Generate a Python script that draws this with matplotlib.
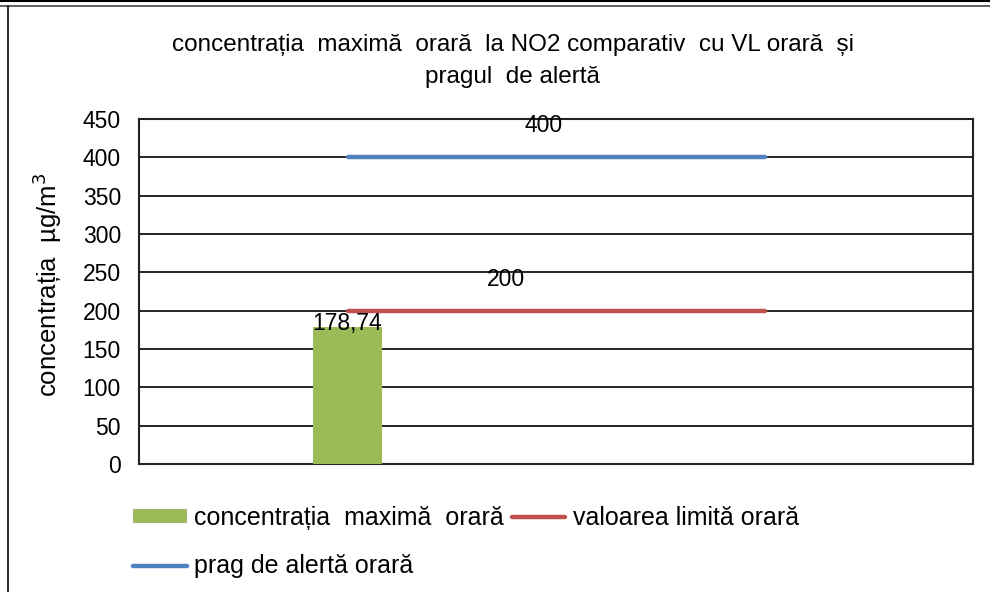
import matplotlib.pyplot as plt
from matplotlib.lines import Line2D

plt.rcParams['font.family'] = ['Liberation Sans', 'DejaVu Sans']

# date
categorii = [0.5, 1.5]
conc_max = [178.74]
vl_orara = [200, 200]
prag_alerta = [400, 400]
eticheta_conc = "178,74"

fig = plt.figure(figsize=(9.9, 5.92), dpi=100)
ax = fig.add_axes([139/990, 1 - 464/592, 834/990, 345/592])

bara = ax.bar(categorii[:1], conc_max, width=0.165, color="#9BBB59", zorder=3)
linie_vl, = ax.plot(categorii, vl_orara, color="#C0504D", lw=3.2, solid_capstyle="round", zorder=4)
linie_prag, = ax.plot(categorii, prag_alerta, color="#4F81BD", lw=3.2, solid_capstyle="round", zorder=4)

ax.text(categorii[0], conc_max[0] - 10, eticheta_conc, ha="center", va="bottom", fontsize=16.5, zorder=5)
ax.text(0.88, vl_orara[0] + 40, str(vl_orara[0]), ha="center", va="center", fontsize=16.5)
ax.text(0.97, prag_alerta[0] + 42, str(prag_alerta[0]), ha="center", va="center", fontsize=16.5)

ax.set_xlim(0, 2)
ax.set_ylim(0, 450)
ax.set_yticks(range(0, 451, 50))
ax.set_xticks([])
ax.tick_params(axis="y", labelsize=16.5, length=0, pad=13)
ax.yaxis.grid(True, color="black", lw=1.2, zorder=0)
ax.set_axisbelow(True)
for s in ax.spines.values():
    s.set_linewidth(1.5)
    s.set_color("#222222")

ax.set_ylabel("concentrația  µg/m$^3$", fontsize=18.5)
ax.yaxis.set_label_coords(-0.09, 0.52)

fig.text(0.518, 1 - 45/592, "concentrația  maximă  orară  la NO2 comparativ  cu VL orară  și",
         ha="center", va="center", fontsize=17.5)
fig.text(0.518, 1 - 77/592, "pragul  de alertă", ha="center", va="center", fontsize=17.5)

# ordine: bara, prag, vl -> pe doua coloane
handles = [bara, linie_prag, linie_vl]
labels = ["concentrația  maximă  orară", "prag de alertă orară", "valoarea limită orară"]
leg = fig.legend(handles, labels, ncol=2,
                 loc="upper left", bbox_to_anchor=(133/990, 1 - 506/592),
                 frameon=False, fontsize=18, handlelength=2.15, handleheight=0.5,
                 handletextpad=0.3, columnspacing=0.3, labelspacing=0.98,
                 borderpad=0, borderaxespad=0)

# chenar
fig.add_artist(Line2D([0, 1], [0.999, 0.999], color="black", lw=1.5, transform=fig.transFigure))
fig.add_artist(Line2D([0, 1], [1 - 6/592, 1 - 6/592], color="#444444", lw=1.2, transform=fig.transFigure))
fig.add_artist(Line2D([8/990, 8/990], [0, 1 - 6/592], color="#333333", lw=1.5, transform=fig.transFigure))

fig.savefig("out.png", dpi=100)
